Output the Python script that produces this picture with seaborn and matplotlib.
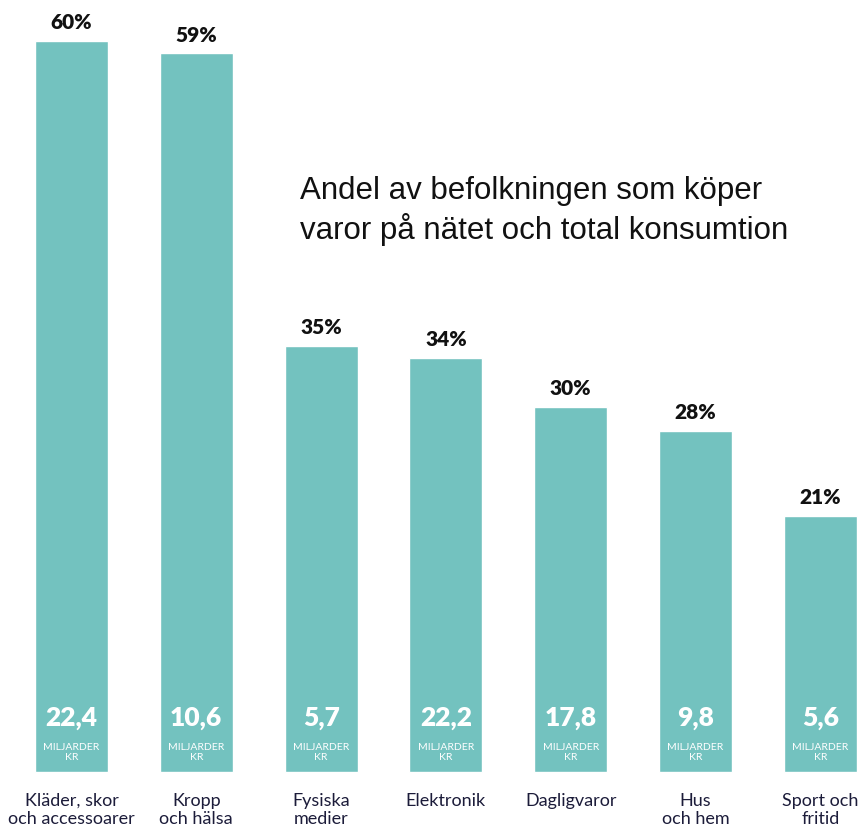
import matplotlib
matplotlib.use("Agg")
import matplotlib.pyplot as plt
import seaborn as sns
import pandas as pd

categories = ["Kläder, skor\noch accessoarer", "Kropp\noch hälsa", "Fysiska\nmedier",
              "Elektronik", "Dagligvaror", "Hus\noch hem", "Sport och\nfritid"]
share_pct = [60, 59, 35, 34, 30, 28, 21]
billions_kr = ["22,4", "10,6", "5,7", "22,2", "17,8", "9,8", "5,6"]
title = "Andel av befolkningen som köper\nvaror på nätet och total konsumtion"

df = pd.DataFrame({"cat": categories, "pct": share_pct})

sns.set_theme(style="white")
plt.rcParams["font.family"] = ["Lato", "DejaVu Sans"]

fig = plt.figure(figsize=(8.63, 8.32), dpi=100)
ax = fig.add_axes([0, 0, 1, 1])
sns.barplot(data=df, x="cat", y="pct", color="#73c2bf", saturation=1, width=0.585, ax=ax)

ax.set_xlim(-0.573, 6.342)
ax.set_ylim(-4.93, 63.38)
ax.axis("off")

for i, (p, v) in enumerate(zip(share_pct, billions_kr)):
    ax.text(i, p + 1.5, f"{p}%", ha="center", va="center", fontsize=15,
            fontweight="heavy", color="#111111")
    ax.text(i, 4.4, v, ha="center", va="center", fontsize=19,
            fontweight="heavy", color="white")
    ax.text(i, 1.6, "MILJARDER\nKR", ha="center", va="center", fontsize=7.5,
            color="white", linespacing=1.15)
    ax.text(i, -3.1 if "\n" in categories[i] else -2.35, categories[i], ha="center",
            va="center", fontsize=13, color="#1c1c3a", linespacing=1.15)

fig.text(300 / 863, 1 - 211 / 832, title, ha="left", va="center", fontsize=22.5,
         family=["Liberation Sans", "DejaVu Sans"], color="#111111", linespacing=1.25)

fig.savefig("out.png", dpi=100)
